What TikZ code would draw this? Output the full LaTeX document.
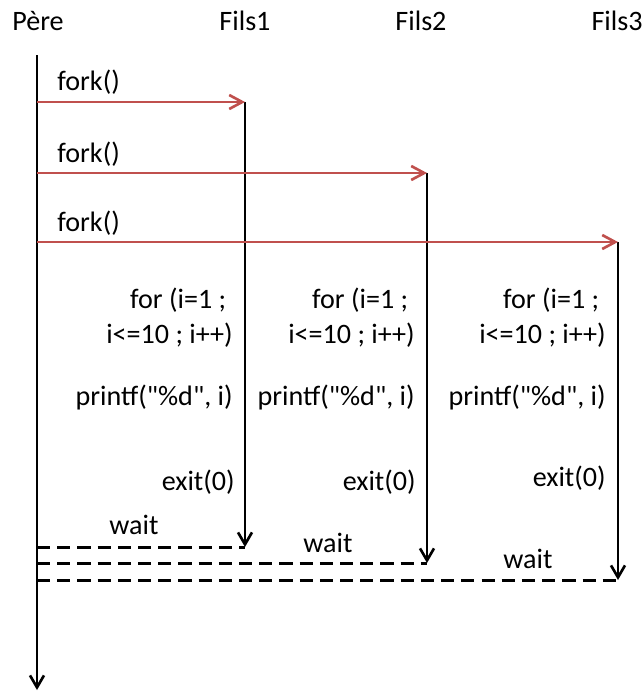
\documentclass[tikz,border=0pt]{standalone}
\usepackage{fontspec}
\setmainfont{Carlito}
\usetikzlibrary{arrows.meta}
\definecolor{forkred}{RGB}{192,80,77}
\newcommand{\dq}{\textquotedbl}

\begin{document}
\begin{tikzpicture}[x=0.02cm, y=-0.02cm,
    lbl/.style={font=\fontsize{16}{20}\selectfont, inner sep=0pt},
    code/.style={lbl, anchor=east, align=right},
    life/.style={-{Straight Barb[length=2.4mm, width=2.8mm]}, line width=1.5pt},
    forkarr/.style={-{Straight Barb[length=2.6mm, width=2.8mm]}, line width=1.5pt, forkred},
    waitline/.style={line width=1.7pt, dash pattern=on 7.5pt off 4pt}
]
\useasboundingbox (0,0) rectangle (644,693);

% process names
\node[lbl] (pere) at (38,21) {Père};
\node[lbl] (fils1) at (245,21) {Fils1};
\node[lbl] (fils2) at (421,21) {Fils2};
\node[lbl, anchor=east] (fils3) at (643,21) {Fils3};

% points on the lifelines
\coordinate (peretop) at (37,55);
\coordinate (perebot) at (37,690);
\coordinate (fk1) at (37,102);
\coordinate (fk2) at (37,173);
\coordinate (fk3) at (37,242);
\coordinate (w1) at (37,547);
\coordinate (w2) at (37,563);
\coordinate (w3) at (37,580);
\coordinate (f1top) at (245,102);
\coordinate (f2top) at (427,173);
\coordinate (f3top) at (618,242);
\coordinate (f1end) at (245,547);
\coordinate (f2end) at (427,563);
\coordinate (f3end) at (618,580);

% father
\draw[life] (peretop) -- (perebot);

% children
\draw[life] (f1top) -- (f1end);
\draw[life] (f2top) -- (f2end);
\draw[life] (f3top) -- (f3end);

% fork calls
\draw[forkarr] (fk1) -- (f1top);
\draw[forkarr] (fk2) -- (f2top);
\draw[forkarr] (fk3) -- (f3top);
\node[lbl, anchor=west] (fork1) at (57,82) {fork()};
\node[lbl, anchor=west] (fork2) at (57,154) {fork()};
\node[lbl, anchor=west] (fork3) at (57,223) {fork()};

% what each child runs
\node[code] (loop1) at (233,318) {for (i=1 ;\hspace*{0.23em}\\i<=10 ; i++)};
\node[code] (loop2) at (415,318) {for (i=1 ;\hspace*{0.23em}\\i<=10 ; i++)};
\node[code] (loop3) at (606,318) {for (i=1 ;\hspace*{0.23em}\\i<=10 ; i++)};
\node[code] (print1) at (233,397) {printf(\dq\%d\dq, i)};
\node[code] (print2) at (415,397) {printf(\dq\%d\dq, i)};
\node[code] (print3) at (606,397) {printf(\dq\%d\dq, i)};
\node[code] (exit1) at (235,482) {exit(0)};
\node[code] (exit2) at (416,482) {exit(0)};
\node[code] (exit3) at (606,478) {exit(0)};

% wait
\draw[waitline] (w1) -- (f1end);
\draw[waitline] (w2) -- (f2end);
\draw[waitline] (w3) -- (f3end);
\node[lbl] (wait1) at (134,525) {wait};
\node[lbl] (wait2) at (328,543) {wait};
\node[lbl] (wait3) at (528,559) {wait};
\end{tikzpicture}
\end{document}
